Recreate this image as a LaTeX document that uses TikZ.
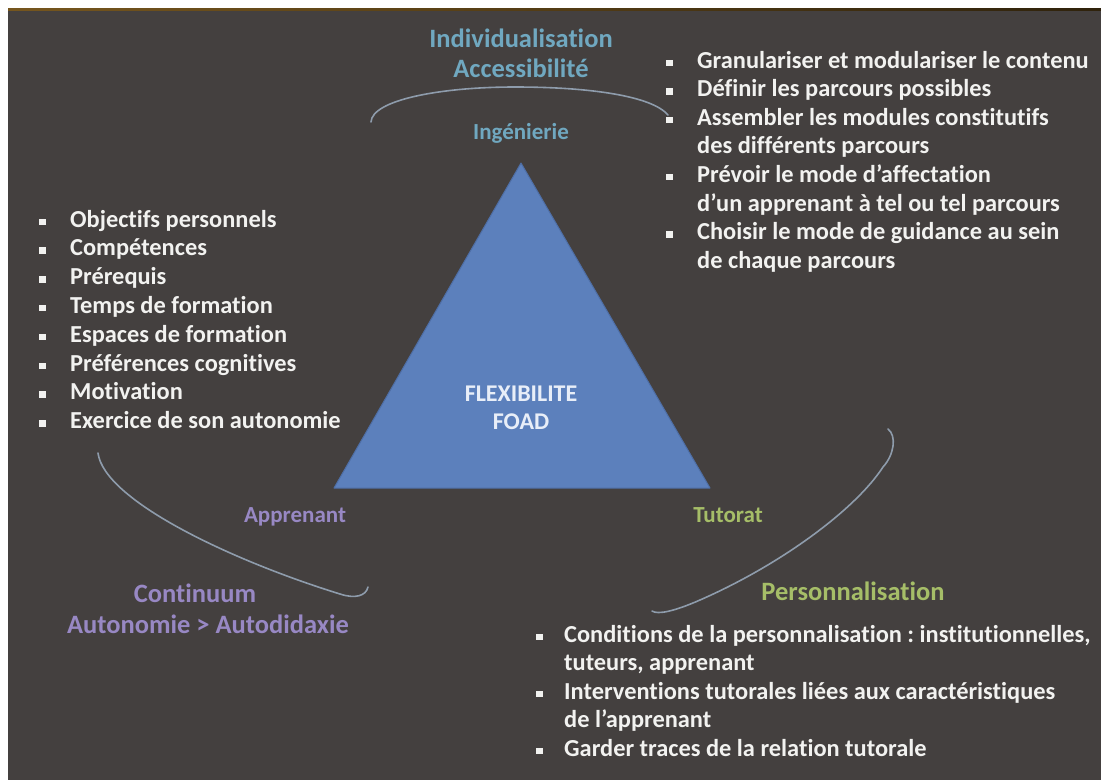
\documentclass[tikz,border=0pt]{standalone}
\usepackage{fontspec}
\setmainfont{Carlito}[Ligatures=NoCommon]
\frenchspacing
\definecolor{slide}{RGB}{68,64,63}
\definecolor{rim}{RGB}{118,86,30}
\definecolor{txt}{RGB}{242,242,240}
\definecolor{teal}{RGB}{112,168,192}
\definecolor{lilac}{RGB}{152,136,196}
\definecolor{olive}{RGB}{166,190,104}
\definecolor{arcc}{RGB}{142,156,172}
\definecolor{tri}{RGB}{92,128,188}
\definecolor{triedge}{RGB}{78,110,165}
\definecolor{tritxt}{RGB}{232,238,248}
% square bullet followed by the indent of the item text
\newcommand\sqbul[1]{\makebox[#1][l]{\rule[2pt]{6.5pt}{6.5pt}}}
% stacked lines whose reference point is the first baseline
\newcommand\leftstack[1]{\begin{tabular}[t]{@{}l@{}}#1\end{tabular}}
\newcommand\midstack[1]{\begin{tabular}[t]{@{}c@{}}#1\end{tabular}}
\begin{document}
\begin{tikzpicture}[x=1pt,y=-1pt,
  listtxt/.style={anchor=base west, inner sep=0pt, text=txt,
    font=\fontsize{24.4}{28.8}\selectfont\bfseries},
  bigtag/.style={anchor=base, inner sep=0pt,
    font=\fontsize{26.5}{30}\selectfont\bfseries},
  cornertag/.style={anchor=base, inner sep=0pt,
    font=\fontsize{23}{28}\selectfont\bfseries},
  loop/.style={draw=arcc, line width=1.6pt, line cap=round}]
\useasboundingbox (0,0) rectangle (1101,780);
% page with its white margin and the slide behind
\fill[white] (0,0) rectangle (1101,780);
\fill[slide] (8,8) rectangle (1101,780);
\shade[left color=rim, right color=rim!40!black] (8,8) rectangle (1101,10.5);

% central triangle
\coordinate (apex) at (521,163);
\coordinate (bl) at (334,488);
\coordinate (br) at (710,488);
\fill[tri, draw=triedge, line width=1pt, line join=round] (apex) -- (bl) -- (br) -- cycle;
\node[anchor=base, inner sep=0pt, text=tritxt,
  font=\fontsize{24}{28}\selectfont\bfseries] (flex) at (521,401)
  {\midstack{FLEXIBILITE\\FOAD}};

% corner labels
\node[cornertag, text=teal] (ing) at (521,139) {Ingénierie};
\node[cornertag, text=lilac] (app) at (295,522) {Apprenant};
\node[cornertag, text=olive] (tut) at (728,522) {Tutorat};

% outer labels
\node[bigtag, text=teal] (indiv) at (521,47) {\midstack{Individualisation\\Accessibilité}};
\node[bigtag, text=lilac] (cont) at (195,602) {Continuum};
\node[bigtag, text=lilac] (auto) at (208,633) {Autonomie > Autodidaxie};
\node[bigtag, text=olive] (pers) at (853,600) {Personnalisation};

% arcs around the triangle
\coordinate (ta) at (371,122);
\coordinate (tb) at (668,115);
\draw[loop] (ta) .. controls (372,100) and (440,87) .. (515,87)
  .. controls (590,87) and (652,96) .. (tb);
\coordinate (la) at (98,453);
\coordinate (lb) at (368,587);
\draw[loop] (la) .. controls (104,500) and (230,560) .. (340,594)
  .. controls (355,599) and (366,596) .. (lb);
\coordinate (ra) at (888,429);
\coordinate (rb) at (652,611);
\draw[loop] (ra) .. controls (897,436) and (894,455) .. (883,467)
  .. controls (855,510) and (780,565) .. (700,600)
  .. controls (675,611) and (658,615) .. (rb);

% bullet lists
\node[listtxt] (learner) at (39,227) {\leftstack{%
\sqbul{31pt}Objectifs personnels\\
\sqbul{31pt}Compétences\\
\sqbul{31pt}Prérequis\\
\sqbul{31pt}Temps de formation\\
\sqbul{31pt}Espaces de formation\\
\sqbul{31pt}Préférences cognitives\\
\sqbul{31pt}Motivation\\
\sqbul{31pt}Exercice de son autonomie}};

\node[listtxt, font=\fontsize{24.4}{28.6}\selectfont\bfseries] (design) at (666,68) {\leftstack{%
\sqbul{31pt}Granulariser et modulariser le contenu\\
\sqbul{31pt}Définir les parcours possibles\\
\sqbul{31pt}Assembler les modules constitutifs\\
\hspace*{31pt}des différents parcours\\
\sqbul{31pt}Prévoir le mode d’affectation\\
\hspace*{31pt}d’un apprenant à tel ou tel parcours\\
\sqbul{31pt}Choisir le mode de guidance au sein\\
\hspace*{31pt}de chaque parcours}};

\node[listtxt, font=\fontsize{24.4}{28.5}\selectfont\bfseries] (tutor) at (536,642) {\leftstack{%
\sqbul{28pt}Conditions de la personnalisation : institutionnelles,\\
\hspace*{28pt}tuteurs, apprenant\\
\sqbul{28pt}Interventions tutorales liées aux caractéristiques\\
\hspace*{28pt}de l’apprenant\\
\sqbul{28pt}Garder traces de la relation tutorale}};
\end{tikzpicture}
\end{document}
